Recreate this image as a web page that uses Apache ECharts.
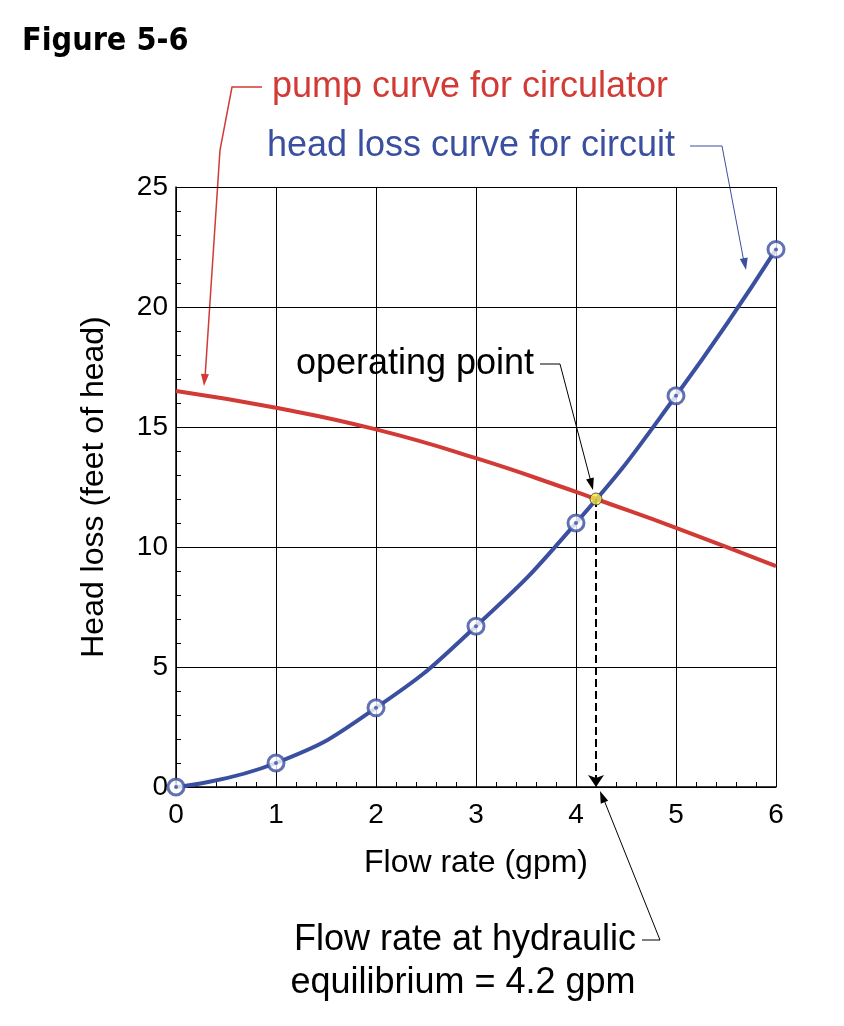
<!DOCTYPE html>
<html><head><meta charset="utf-8">
<script src="https://cdn.jsdelivr.net/npm/echarts@6/dist/echarts.min.js"></script>
<style>html,body{margin:0;background:#fff}#c{width:844px;height:1026px}</style>
</head><body><div id="c"></div>
<script>
// data
const flowPts = [0, 1, 2, 3, 4, 5, 6];
const headLoss = [0, 1.0, 3.3, 6.7, 11.0, 16.3, 22.4];
const pumpFlow = [0, 1, 2, 3, 4, 4.2, 5, 6];
const pumpHead = [16.5, 15.8, 14.9, 13.7, 12.3, 12.0, 10.8, 9.2];
const opPoint = [4.2, 12.0];

const chart = echarts.init(document.getElementById('c'));
const font = 'Helvetica, Arial, "Liberation Sans", sans-serif';
const red = '#d13a35', blue = '#3a4fa0';
const arrowHead = (x, y, ang, color) => ({
  type: 'polygon', x: x, y: y, rotation: ang,
  shape: { points: [[0, 0], [-12, -4], [-12, 4]] },
  style: { fill: color }, z: 10
});
chart.setOption({
  animation: false,
  grid: { left: 176, top: 187, width: 600, height: 600 },
  xAxis: {
    type: 'value', min: 0, max: 6, interval: 1,
    name: 'Flow rate (gpm)', nameLocation: 'middle', nameGap: 60,
    nameTextStyle: { fontSize: 32, color: '#000', fontFamily: font },
    axisLine: { lineStyle: { color: '#000', width: 1.5 } },
    axisTick: { inside: true, length: 8, lineStyle: { color: '#000' } },
    minorTick: { show: true, splitNumber: 5, length: 5, lineStyle: { color: '#000' } },
    axisLabel: { fontSize: 28, color: '#000', margin: 14, fontFamily: font },
    splitLine: { lineStyle: { color: '#000', width: 1 } }
  },
  yAxis: {
    type: 'value', min: 0, max: 25, interval: 5,
    name: 'Head loss (feet of head)', nameLocation: 'middle', nameGap: 66,
    nameTextStyle: { fontSize: 32, color: '#000', fontFamily: font },
    axisLine: { show: true, lineStyle: { color: '#000', width: 1.5 } },
    axisTick: { show: true, inside: true, length: 8, lineStyle: { color: '#000' } },
    minorTick: { show: true, splitNumber: 5, length: 5, lineStyle: { color: '#000' } },
    axisLabel: { fontSize: 28, color: '#000', margin: 8, fontFamily: font },
    splitLine: { lineStyle: { color: '#000', width: 1 } }
  },
  series: [
    { type: 'line', data: pumpFlow.map((x, i) => [x, pumpHead[i]]), smooth: true,
      showSymbol: false, lineStyle: { color: red, width: 4 }, z: 3 },
    { type: 'line', data: flowPts.map((x, i) => [x, headLoss[i]]), smooth: true,
      showSymbol: false, lineStyle: { color: blue, width: 4 }, z: 4 },
    { type: 'scatter', data: flowPts.map((x, i) => [x, headLoss[i]]), symbol: 'circle', symbolSize: 16,
      itemStyle: { color: '#fff', borderColor: blue, borderWidth: 3 }, z: 5 },
    { type: 'scatter', data: flowPts.map((x, i) => [x, headLoss[i]]), symbol: 'circle', symbolSize: 4,
      itemStyle: { color: blue }, z: 6 },
    { type: 'scatter', data: [opPoint], symbol: 'circle', symbolSize: 12,
      itemStyle: { color: '#f5e94a', borderColor: '#333', borderWidth: 1 }, z: 7,
      markLine: { silent: true, symbol: ['none', 'arrow'], symbolSize: 12,
        lineStyle: { color: '#000', type: 'dashed', width: 2 }, label: { show: false },
        data: [[{ coord: opPoint }, { coord: [opPoint[0], 0] }]] } }
  ],
  graphic: [
    { type: 'text', left: 22, top: 26, style: { text: 'Figure 5-6', font: 'bold 32px "DejaVu Sans Condensed", sans-serif', fill: '#000' } },
    { type: 'text', x: 470, y: 87, style: { text: 'pump curve for circulator', fill: red, font: '36px ' + font, align: 'center', verticalAlign: 'middle' } },
    { type: 'text', x: 471, y: 146, style: { text: 'head loss curve for circuit', fill: blue, font: '36px ' + font, align: 'center', verticalAlign: 'middle' } },
    { type: 'text', x: 415, y: 364, style: { text: 'operating point', fill: '#000', font: '36px ' + font, align: 'center', verticalAlign: 'middle' } },
    { type: 'text', x: 465, y: 940, style: { text: 'Flow rate at hydraulic', fill: '#000', font: '36px ' + font, align: 'center', verticalAlign: 'middle' } },
    { type: 'text', x: 463, y: 983, style: { text: 'equilibrium = 4.2 gpm', fill: '#000', font: '36px ' + font, align: 'center', verticalAlign: 'middle' } },
    { type: 'polyline', shape: { points: [[262, 87], [232, 87], [220, 150], [205, 378]] }, style: { stroke: red, lineWidth: 1.5, fill: null } },
    arrowHead(204, 386, -Math.PI / 2 - 0.08, red),
    { type: 'polyline', shape: { points: [[690, 146], [722, 146], [744, 262]] }, style: { stroke: blue, lineWidth: 1, fill: null } },
    arrowHead(746, 270, -Math.atan2(116, 22), blue),
    { type: 'polyline', shape: { points: [[540, 364], [560, 364], [591, 482]] }, style: { stroke: '#000', lineWidth: 1, fill: null } },
    arrowHead(593, 490, -Math.atan2(118, 31), '#000'),
    { type: 'polyline', shape: { points: [[642, 940], [660, 940], [604, 800]] }, style: { stroke: '#000', lineWidth: 1, fill: null } },
    arrowHead(600, 791, -Math.atan2(-140, -56), '#000')
  ]
});
</script></body></html>
